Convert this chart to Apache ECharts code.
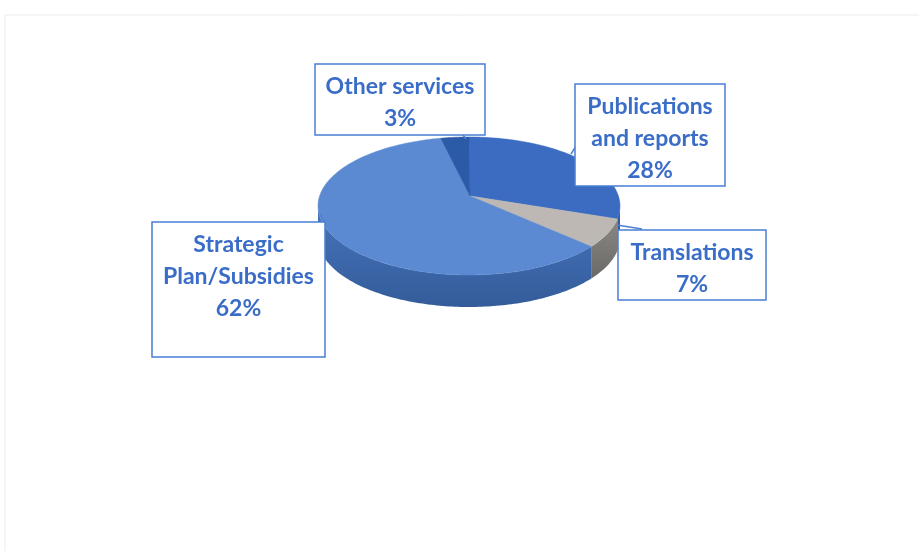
<!DOCTYPE html>
<html>
<head>
<meta charset="utf-8">
<script src="https://cdn.jsdelivr.net/npm/echarts@6/dist/echarts.min.js"></script>
<style>
html,body{margin:0;padding:0;background:#fff;}
#main{width:919px;height:551px;}
</style>
</head>
<body>
<div id="main"></div>
<script>
// ---- data ----
const categories = ['Publications and reports', 'Translations', 'Strategic Plan/Subsidies', 'Other services'];
const labelLines = [['Publications', 'and reports'], ['Translations'], ['Strategic', 'Plan/Subsidies'], ['Other services']];
const values = [28, 7, 62, 3];

// ---- styles / layout (not data) ----
const topColors = ['#3b6cc1', '#bdb8b3', '#5b8ad3', '#2b5aa6'];
const sideColors = [['#3262ab', '#2a5290'], ['#8a8784', '#6b6967'], ['#4674bb', '#345c9a'], ['#24508f', '#1d4278']];
const geo = { cx: 469, cy: 206, apexX: 470, apexY: 196, rx: 151, ry: 69, depth: 32 };
const boxes = [
  { x: 575, y: 84, w: 150, h: 102, line: [[576, 146], [571, 154]] },
  { x: 618, y: 230, w: 148, h: 70, line: [[642, 229], [617, 225]] },
  { x: 152, y: 222, w: 173, h: 135, line: [[325, 225], [320, 214]] },
  { x: 315, y: 64, w: 170, h: 71, line: [[463, 135], [466, 139]] }
];
const textColor = '#3a6dc8';
const boxColor = '#4a7fd3';

const total = values.reduce((a, b) => a + b, 0);
let acc = 0;
const seriesData = values.map((v, i) => {
  const s = acc / total; acc += v;
  return { name: categories[i], value: [v, s, acc / total] };
});

function pt(t, dy) {
  return [geo.cx + geo.rx * Math.sin(t), geo.cy - geo.ry * Math.cos(t) + (dy || 0)];
}
function arc(a, b, dy) {
  const pts = [];
  const n = Math.max(2, Math.ceil((b - a) / 0.02));
  for (let k = 0; k <= n; k++) pts.push(pt(a + (b - a) * k / n, dy));
  return pts;
}

function renderItem(params, api) {
  const i = params.dataIndex;
  const a0 = api.value(1) * 2 * Math.PI;
  const a1 = api.value(2) * 2 * Math.PI;
  const children = [];
  // front side
  const s = Math.max(a0, Math.PI / 2), e = Math.min(a1, 3 * Math.PI / 2);
  if (e > s) {
    const topArc = arc(s, e, 0);
    const botArc = arc(s, e, geo.depth).reverse();
    children.push({
      type: 'polygon',
      shape: { points: topArc.concat(botArc) },
      style: {
        fill: new echarts.graphic.LinearGradient(0, 0, 0, 1, [
          { offset: 0, color: sideColors[i][0] },
          { offset: 1, color: sideColors[i][1] }
        ])
      }
    });
  }
  // top face
  const pts = [[geo.apexX, geo.apexY]].concat(arc(a0, a1, 0));
  children.push({
    type: 'polygon',
    shape: { points: pts },
    style: { fill: topColors[i], stroke: topColors[i], lineWidth: 0.5 }
  });
  return { type: 'group', children: children };
}

const graphics = [
  { type: 'rect', shape: { x: 5, y: 15, width: 930, height: 560 }, style: { fill: 'none', stroke: '#ebebeb', lineWidth: 1 }, silent: true }
];
values.forEach((v, i) => {
  const b = boxes[i];
  const pct = Math.round(v / total * 100) + '%';
  graphics.push({
    type: 'polyline', z: 10,
    shape: { points: b.line },
    style: { stroke: boxColor, lineWidth: 1.5, fill: 'none' }
  });
  graphics.push({
    type: 'rect', z: 10,
    shape: { x: b.x, y: b.y, width: b.w, height: b.h },
    style: { fill: '#fff', stroke: boxColor, lineWidth: 1.5 }
  });
  graphics.push({
    type: 'text', z: 11,
    x: b.x + b.w / 2, y: b.y + 7,
    style: {
      text: labelLines[i].concat([pct]).join('\n'),
      fill: textColor,
      font: 'bold 23px Lato, "Open Sans", sans-serif',
      lineHeight: 32,
      align: 'center',
      verticalAlign: 'top'
    }
  });
});

const chart = echarts.init(document.getElementById('main'), null, { renderer: 'canvas' });
chart.setOption({
  backgroundColor: '#ffffff',
  animation: false,
  series: [{
    type: 'custom',
    coordinateSystem: 'none',
    renderItem: renderItem,
    data: seriesData
  }],
  graphic: graphics
});
</script>
</body>
</html>
